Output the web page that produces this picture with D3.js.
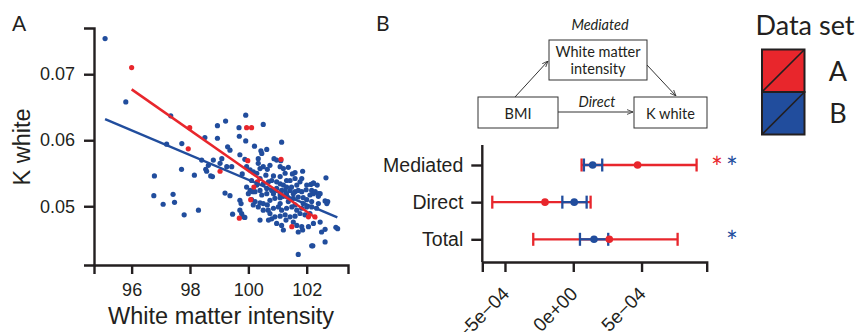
<!DOCTYPE html>
<html><head><meta charset="utf-8">
<script src="https://cdn.jsdelivr.net/npm/d3@7"></script>
<style>
body{margin:0;background:#fff;}
svg{display:block;}
text{fill:#231f20;}
</style></head>
<body>
<svg id="chart" width="855" height="332"></svg>
<script>
// ---------------- DATA ----------------
const xTicksA = [96, 98, 100, 102];
const yTicksA = [0.05, 0.06, 0.07];
const blueX = [95.09,95.80,97.34,97.20,96.78,96.76,97.08,97.42,97.47,
99.91,99.22,98.94,99.68,100.51,99.69,101.14,97.72,98.51,98.94,99.91,99.29,99.37,100.21,100.43,100.63,99.71,99.88,100.34,100.88,100.97,101.11,99.09,98.80,98.40,98.63,99.03,99.26,99.43,97.71,98.15,98.54,98.57,98.71,98.77,99.79,100.17,100.29,100.40,100.51,100.65,100.74,101.09,101.20,101.37,101.60,101.51,101.86,
100.11,100.40,100.60,100.86,101.09,101.26,100.51,100.69,100.80,100.97,101.09,101.20,101.31,101.48,101.66,100.06,100.15,100.23,100.40,100.63,100.80,100.97,101.14,101.26,101.43,101.60,101.71,101.83,101.98,102.14,102.23,102.36,102.66,
99.20,99.37,99.71,99.75,100.11,100.23,100.40,100.51,100.65,100.74,100.91,101.09,101.20,101.34,101.54,101.71,101.88,102.00,102.11,102.23,102.40,102.63,102.69,
100.17,100.34,100.68,100.86,101.03,101.14,101.31,101.49,101.66,101.83,102.00,102.17,102.34,99.71,99.77,99.83,99.46,99.88,98.29,97.80,
100.74,100.91,101.09,101.26,101.43,101.60,101.77,101.94,102.11,100.80,100.97,101.14,101.29,101.54,101.66,101.83,102.06,102.23,102.46,
101.20,101.71,101.86,102.51,102.63,103.06,102.21,102.63,101.71,100.69,100.40,100.51,101.09,101.37,101.60,101.88,102.17,102.40,
100.63,100.86,101.09,101.31,101.54,99.94,100.00,100.29,100.46,102.00,101.77,101.83,101.60,101.43,101.31,102.17,102.29,102.46,99.94,100.06,100.34,100.46,
102.72,102.17,102.23,102.40,103.00];
const blueY = [0.0754,0.0658,0.0637,0.0594,0.0546,0.0516,0.0503,0.0518,0.0506,
0.0638,0.0629,0.0622,0.0619,0.0624,0.0606,0.0597,0.0595,0.0604,0.0603,0.0599,0.0590,0.0585,0.0591,0.0584,0.0586,0.0578,0.0571,0.0565,0.0572,0.0570,0.0569,0.0572,0.0570,0.0570,0.0562,0.0565,0.0560,0.0560,0.0556,0.0547,0.0556,0.0553,0.0546,0.0545,0.0549,0.0552,0.0550,0.0557,0.0560,0.0556,0.0562,0.0560,0.0557,0.0559,0.0551,0.0549,0.0553,
0.0539,0.0542,0.0547,0.0546,0.0545,0.0550,0.0534,0.0537,0.0539,0.0537,0.0534,0.0532,0.0529,0.0529,0.0532,0.0524,0.0522,0.0522,0.0524,0.0527,0.0524,0.0527,0.0524,0.0524,0.0524,0.0522,0.0524,0.0522,0.0525,0.0533,0.0535,0.0532,0.0543,
0.0520,0.0516,0.0509,0.0504,0.0510,0.0507,0.0505,0.0504,0.0502,0.0509,0.0512,0.0513,0.0515,0.0514,0.0512,0.0514,0.0513,0.0510,0.0517,0.0519,0.0515,0.0508,0.0504,
0.0502,0.0499,0.0494,0.0497,0.0499,0.0494,0.0497,0.0499,0.0494,0.0497,0.0499,0.0499,0.0497,0.0494,0.0489,0.0484,0.0488,0.0483,0.0494,0.0487,
0.0489,0.0484,0.0485,0.0487,0.0484,0.0485,0.0489,0.0487,0.0489,0.0481,0.0474,0.0471,0.0479,0.0476,0.0471,0.0469,0.0469,0.0474,0.0476,
0.0464,0.0461,0.0464,0.0461,0.0465,0.0466,0.0440,0.0446,0.0427,0.0479,0.0479,0.0494,0.0504,0.0507,0.0502,0.0504,0.0507,0.0504,
0.0519,0.0519,0.0517,0.0519,0.0519,0.0529,0.0519,0.0532,0.0517,0.0532,0.0537,0.0542,0.0542,0.0539,0.0539,0.0524,0.0522,0.0519,0.0560,0.0555,0.0572,0.0580,
0.0507,0.0440,0.0535,0.0519,0.0468];
const redX = [96.00,97.99,97.94,99.94,100.11,99.03,99.98,100.08,99.69,100.19,100.31,101.49,102.06,102.28,101.12];
const redY = [0.0710,0.0619,0.0587,0.0619,0.0619,0.0553,0.0569,0.0510,0.0482,0.0529,0.0537,0.0469,0.0484,0.0484,0.0571];
const redFitX = [96.0, 102.35];
const redFitY = [0.0677, 0.0481];
const blueFitX = [95.09, 103.05];
const blueFitY = [0.0632, 0.0483];

const effects = ["Mediated", "Direct", "Total"];
const redEst = [4.71e-4, -2.07e-4, 2.64e-4];
const redLo  = [0.61e-4, -5.93e-4, -2.93e-4];
const redHi  = [9.03e-4, 1.27e-4, 7.64e-4];
const blueEst = [1.42e-4, 0.07e-4, 1.52e-4];
const blueLo  = [0.78e-4, -0.80e-4, 0.49e-4];
const blueHi  = [2.12e-4, 0.98e-4, 2.56e-4];
const xTicksB = [-5e-4, 0, 5e-4];
const xTickLabelsB = ["\u22125e\u221204", "0e+00", "5e\u221204"];
const redSig = ["Mediated"];
const blueSig = ["Mediated", "Total"];
const datasets = ["A", "B"];

// ---------------- STYLE ----------------
const RED = "#e8262c", BLUE = "#214d9d", INK = "#231f20";
const FA = "'Liberation Sans', Arial, Helvetica, sans-serif";
const FB = "Lato, 'Open Sans', sans-serif";
const svg = d3.select("#chart");

// ---------------- PANEL A ----------------
const xA = d3.scaleLinear().domain([94.71, 103.415]).range([94, 348]);
const yA = d3.scaleLinear().domain([0.0411, 0.0770]).range([265, 28]);
const gA = svg.append("g");

const axA = gA.append("g").attr("transform", "translate(0,265)")
  .call(d3.axisBottom(xA).tickValues(xTicksA).tickFormat(d3.format("d")).tickSizeOuter(0).tickSize(9).tickPadding(9));
const ayA = gA.append("g").attr("transform", "translate(94,0)")
  .call(d3.axisLeft(yA).tickValues(yTicksA).tickFormat(d3.format(".2f")).tickSizeOuter(0).tickSize(10).tickPadding(9));
[axA, ayA].forEach(a => {
  a.attr("font-family", FA);
  a.select(".domain").attr("stroke", INK).attr("stroke-width", 2.4);
  a.selectAll(".tick line").attr("stroke", INK).attr("stroke-width", 2.4);
  a.selectAll(".tick text").attr("font-family", FA).attr("font-size", 18).attr("fill", INK);
});

gA.append("g").selectAll("circle").data(d3.range(blueX.length)).join("circle")
  .attr("cx", i => xA(blueX[i])).attr("cy", i => yA(blueY[i])).attr("r", 2.6).attr("fill", BLUE);
gA.append("g").selectAll("circle").data(d3.range(redX.length)).join("circle")
  .attr("cx", i => xA(redX[i])).attr("cy", i => yA(redY[i])).attr("r", 2.6).attr("fill", RED);
gA.append("line").attr("x1", xA(blueFitX[0])).attr("y1", yA(blueFitY[0]))
  .attr("x2", xA(blueFitX[1])).attr("y2", yA(blueFitY[1])).attr("stroke", BLUE).attr("stroke-width", 2.5);
gA.append("line").attr("x1", xA(redFitX[0])).attr("y1", yA(redFitY[0]))
  .attr("x2", xA(redFitX[1])).attr("y2", yA(redFitY[1])).attr("stroke", RED).attr("stroke-width", 2.5);

gA.append("text").attr("x", 221).attr("y", 324).attr("text-anchor", "middle")
  .attr("font-family", FA).attr("font-size", 23.5).text("White matter intensity");
gA.append("text").attr("transform", "translate(30,147) rotate(-90)").attr("text-anchor", "middle")
  .attr("font-family", FA).attr("font-size", 23.5).text("K white");
gA.append("text").attr("x", 12).attr("y", 31).attr("font-family", FB).attr("font-size", 21).text("A");

// ---------------- PANEL B ----------------
svg.append("text").attr("x", 376).attr("y", 31).attr("font-family", FB).attr("font-size", 21).text("B");

// diagram
const defs = svg.append("defs");
defs.append("marker").attr("id", "arr").attr("viewBox", "0 0 10 10").attr("refX", 10).attr("refY", 5)
  .attr("markerWidth", 6).attr("markerHeight", 6).attr("orient", "auto")
  .append("path").attr("d", "M0,1 L10,5 L0,9").attr("fill", "none").attr("stroke", "#333").attr("stroke-width", 1.4);
const dg = svg.append("g").attr("font-family", FB).attr("font-size", 14.5);
const boxes = [
  {x: 549, y: 40, w: 98, h: 40, lines: ["White matter", "intensity"]},
  {x: 478, y: 97, w: 80, h: 31, lines: ["BMI"]},
  {x: 634, y: 97, w: 73, h: 31, lines: ["K white"]}
];
boxes.forEach(b => {
  dg.append("rect").attr("x", b.x).attr("y", b.y).attr("width", b.w).attr("height", b.h)
    .attr("fill", "#fff").attr("stroke", "#333").attr("stroke-width", 1);
  b.lines.forEach((t, i) => {
    dg.append("text").attr("x", b.x + b.w / 2)
      .attr("y", b.lines.length === 1 ? b.y + b.h / 2 + 6 : b.y + 16.5 + i * 17.5)
      .attr("text-anchor", "middle").text(t);
  });
});
[[515, 97, 548, 61], [647, 65, 676, 96], [558, 112, 633, 112]].forEach(a => {
  dg.append("line").attr("x1", a[0]).attr("y1", a[1]).attr("x2", a[2]).attr("y2", a[3])
    .attr("stroke", "#333").attr("stroke-width", 1).attr("marker-end", "url(#arr)");
});
dg.append("text").attr("x", 600).attr("y", 30).attr("text-anchor", "middle").attr("font-style", "italic").text("Mediated");
dg.append("text").attr("x", 597).attr("y", 107).attr("text-anchor", "middle").attr("font-style", "italic").text("Direct");

// forest plot
const xB = d3.scaleLinear().domain([-6.66e-4, 9.77e-4]).range([482.3, 706.7]);
const yB = d3.scalePoint().domain(effects).range([165, 239.3]);
const axB = svg.append("g").attr("transform", "translate(0,262)")
  .call(d3.axisBottom(xB).tickValues(xTicksB).tickFormat((d, i) => xTickLabelsB[i]).tickSizeOuter(0).tickSize(10));
axB.selectAll(".tick text").attr("font-family", FA).attr("font-size", 19).attr("fill", INK)
  .attr("text-anchor", "end").attr("dy", null).attr("y", null)
  .attr("transform", "translate(5,33) rotate(-45)");
const ayB = svg.append("g").attr("transform", "translate(482.3,0)")
  .call(d3.axisLeft(yB).tickSizeOuter(0).tickSize(11).tickPadding(8));
ayB.select(".domain").attr("d", "M0,145V262");
ayB.selectAll(".tick text").attr("font-family", FA).attr("font-size", 19.5).attr("fill", INK);
[axB, ayB].forEach(a => {
  a.select(".domain").attr("stroke", INK).attr("stroke-width", 2.4);
  a.selectAll(".tick line").attr("stroke", INK).attr("stroke-width", 2.4);
});

function drawSeries(est, lo, hi, color) {
  const g = svg.append("g");
  effects.forEach((e, i) => {
    const y = yB(e);
    g.append("line").attr("x1", xB(lo[i])).attr("x2", xB(hi[i])).attr("y1", y).attr("y2", y)
      .attr("stroke", color).attr("stroke-width", 2.3);
    [lo[i], hi[i]].forEach(v => g.append("line").attr("x1", xB(v)).attr("x2", xB(v))
      .attr("y1", y - 6.5).attr("y2", y + 6.5).attr("stroke", color).attr("stroke-width", 2.3));
  });
  return g;
}
drawSeries(redEst, redLo, redHi, RED);
drawSeries(blueEst, blueLo, blueHi, BLUE);
svg.append("g").selectAll("circle").data(effects).join("circle")
  .attr("cx", (e, i) => xB(blueEst[i])).attr("cy", e => yB(e)).attr("r", 3.8).attr("fill", BLUE);
svg.append("g").selectAll("circle").data(effects).join("circle")
  .attr("cx", (e, i) => xB(redEst[i])).attr("cy", e => yB(e)).attr("r", 3.8).attr("fill", RED);

// significance stars
redSig.forEach(e => svg.append("text").attr("x", 717).attr("y", yB(e) + 13).attr("text-anchor", "middle")
  .attr("font-family", FB).attr("font-size", 28).style("fill", RED).text("*"));
blueSig.forEach(e => svg.append("text").attr("x", 732).attr("y", yB(e) + 13).attr("text-anchor", "middle")
  .attr("font-family", FB).attr("font-size", 28).style("fill", BLUE).text("*"));

// legend
const lg = svg.append("g").attr("font-family", FB);
lg.append("text").attr("x", 805).attr("y", 35).attr("text-anchor", "middle").attr("font-size", 27).text("Data set");
datasets.forEach((d, i) => {
  const x0 = 762, y0 = 49.5 + i * 42.5, s = 42.5;
  lg.append("rect").attr("x", x0).attr("y", y0).attr("width", s).attr("height", s)
    .attr("fill", i === 0 ? RED : BLUE).attr("stroke", INK).attr("stroke-width", 2);
  lg.append("line").attr("x1", x0).attr("y1", y0 + s).attr("x2", x0 + s).attr("y2", y0)
    .attr("stroke", INK).attr("stroke-width", 1.6);
  lg.append("text").attr("x", 838).attr("y", y0 + s / 2 + 10).attr("text-anchor", "middle")
    .attr("font-size", 27).text(d);
});
</script>
</body></html>
